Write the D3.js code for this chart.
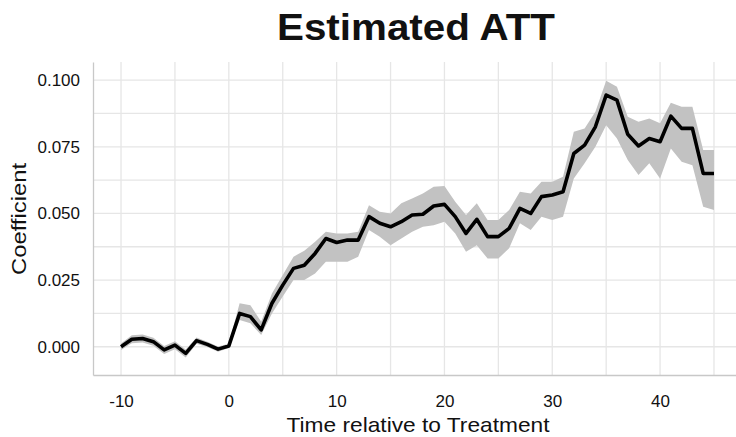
<!DOCTYPE html>
<html>
<head>
<meta charset="utf-8">
<script src="https://cdn.jsdelivr.net/npm/d3@7"></script>
<style>
  body { margin: 0; background: #fff; }
  text { font-family: "Liberation Sans", Arial, sans-serif; fill: #111; }
</style>
</head>
<body>
<script>
// event time and estimated ATT with its confidence band
const times = d3.range(-10, 46);
const coef = [0.0000, 0.0028, 0.0031, 0.0019, -0.0012, 0.0006, -0.0025, 0.0023, 0.0009, -0.0009,
  0.0003, 0.0125, 0.0113, 0.0063, 0.0163, 0.0231, 0.0294, 0.0306, 0.0350, 0.0406,
  0.0391, 0.0400, 0.0400, 0.0488, 0.0463, 0.0450, 0.0469, 0.0494, 0.0497, 0.0528,
  0.0534, 0.0488, 0.0425, 0.0478, 0.0413, 0.0413, 0.0444, 0.0519, 0.0500, 0.0563,
  0.0569, 0.0581, 0.0725, 0.0756, 0.0825, 0.0944, 0.0925, 0.0797, 0.0753, 0.0781,
  0.0769, 0.0865, 0.0819, 0.0819, 0.0650, 0.0650];
const upper = [0.0012, 0.0043, 0.0046, 0.0034, 0.0003, 0.0021, -0.0010, 0.0035, 0.0019, 0.0001,
  0.0011, 0.0163, 0.0156, 0.0094, 0.0200, 0.0269, 0.0338, 0.0360, 0.0394, 0.0431,
  0.0425, 0.0425, 0.0431, 0.0531, 0.0506, 0.0500, 0.0538, 0.0556, 0.0575, 0.0600,
  0.0603, 0.0544, 0.0494, 0.0538, 0.0475, 0.0475, 0.0513, 0.0581, 0.0575, 0.0619,
  0.0619, 0.0638, 0.0806, 0.0819, 0.0881, 0.0998, 0.0975, 0.0863, 0.0844, 0.0856,
  0.0838, 0.0915, 0.0900, 0.0900, 0.0738, 0.0738];
const lower = [-0.0012, 0.0013, 0.0016, 0.0004, -0.0027, -0.0009, -0.0040, 0.0011, -0.0001, -0.0019,
  -0.0005, 0.0100, 0.0088, 0.0044, 0.0125, 0.0188, 0.0250, 0.0250, 0.0275, 0.0319,
  0.0319, 0.0319, 0.0338, 0.0438, 0.0413, 0.0381, 0.0406, 0.0431, 0.0450, 0.0456,
  0.0469, 0.0425, 0.0356, 0.0381, 0.0331, 0.0331, 0.0369, 0.0463, 0.0438, 0.0488,
  0.0475, 0.0488, 0.0631, 0.0688, 0.0750, 0.0831, 0.0781, 0.0700, 0.0644, 0.0688,
  0.0631, 0.0744, 0.0694, 0.0681, 0.0525, 0.0513];
const xTicks = [-10, 0, 10, 20, 30, 40];
const yTicks = [0, 0.025, 0.05, 0.075, 0.1];

const data = times.map((t, i) => ({ t: t, c: coef[i], hi: upper[i], lo: lower[i] }));

const svg = d3.select("body").append("svg")
  .attr("width", 736)
  .attr("height", 437);

const x = d3.scaleLinear().domain([-12.6, 47.6]).range([93, 742]);
const y = d3.scaleLinear().domain([-0.0106, 0.1068]).range([375, 62]);

// grid (major + minor)
svg.append("g")
  .selectAll("line")
  .data(d3.range(-10, 46, 5))
  .enter().append("line")
  .attr("x1", d => x(d)).attr("x2", d => x(d))
  .attr("y1", 62).attr("y2", 375)
  .attr("stroke", "#e6e6e6").attr("stroke-width", 1.3);

svg.append("g")
  .selectAll("line")
  .data(d3.range(0, 9).map(k => k * 0.0125))
  .enter().append("line")
  .attr("x1", 93).attr("x2", 742)
  .attr("y1", d => y(d)).attr("y2", d => y(d))
  .attr("stroke", "#e6e6e6").attr("stroke-width", 1.3);

// confidence band
svg.append("path")
  .datum(data)
  .attr("fill", "#c2c2c2")
  .attr("d", d3.area().x(d => x(d.t)).y0(d => y(d.lo)).y1(d => y(d.hi)));

// estimate line
svg.append("path")
  .datum(data)
  .attr("fill", "none")
  .attr("stroke", "#000")
  .attr("stroke-width", 3.6)
  .attr("stroke-linejoin", "round")
  .attr("d", d3.line().x(d => x(d.t)).y(d => y(d.c)));

// axes
const xAxis = d3.axisBottom(x).tickValues(xTicks).tickSize(0).tickPadding(20)
  .tickFormat(d => String(d));
const gx = svg.append("g").attr("transform", "translate(0,375)").call(xAxis);
gx.select(".domain").attr("stroke", "#c8c8c8").attr("stroke-width", 1.3);
gx.selectAll("text").style("font-size", "17px").attr("fill", "#111");

const yAxis = d3.axisLeft(y).tickValues(yTicks).tickSize(0).tickPadding(13)
  .tickFormat(d3.format(".3f"));
const gy = svg.append("g").attr("transform", "translate(93,0)").call(yAxis);
gy.select(".domain").attr("stroke", "#c8c8c8").attr("stroke-width", 1.3);
gy.selectAll("text").style("font-size", "17px").attr("fill", "#111");

// titles
svg.append("text")
  .attr("x", 416).attr("y", 40)
  .attr("text-anchor", "middle")
  .attr("textLength", 278).attr("lengthAdjust", "spacingAndGlyphs")
  .style("font-size", "36px").style("font-weight", "bold")
  .text("Estimated ATT");

svg.append("text")
  .attr("x", 418).attr("y", 432)
  .attr("text-anchor", "middle")
  .attr("textLength", 263).attr("lengthAdjust", "spacingAndGlyphs")
  .style("font-size", "21px")
  .text("Time relative to Treatment");

svg.append("text")
  .attr("transform", "translate(26,219) rotate(-90)")
  .attr("text-anchor", "middle")
  .attr("textLength", 112).attr("lengthAdjust", "spacingAndGlyphs")
  .style("font-size", "21px")
  .text("Coefficient");
</script>
</body>
</html>
